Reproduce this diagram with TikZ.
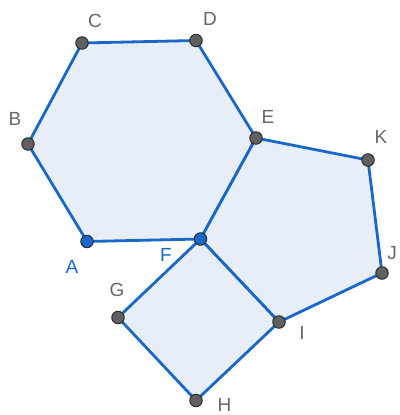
\documentclass[tikz,border=0pt]{standalone}
\usepackage{fontspec}
\setmainfont{Liberation Sans}
\definecolor{edgeblue}{HTML}{1967C8}
\definecolor{fillblue}{HTML}{E7EEF8}
\definecolor{ptgray}{HTML}{606060}
\definecolor{lblgray}{HTML}{666666}
\tikzset{
  edge/.style={draw=edgeblue, line width=2.8pt, line join=round, fill=fillblue},
  pt/.style={circle, draw=black!85, line width=0.9pt, fill=ptgray, minimum size=12.5pt, inner sep=0pt},
  bpt/.style={pt, fill=edgeblue},
  lbl/.style={text=lblgray, font=\fontsize{19pt}{19pt}\selectfont, inner sep=0pt},
  blbl/.style={lbl, text=edgeblue}
}
\begin{document}
\begin{tikzpicture}[x=1pt,y=-1pt]
\useasboundingbox (0,0) rectangle (399,415);
\coordinate (a) at (87,241.5);
\coordinate (b) at (28,144);
\coordinate (c) at (82,43);
\coordinate (d) at (196,40.5);
\coordinate (e) at (256,138);
\coordinate (f) at (200.5,239);
\coordinate (g) at (118,317.5);
\coordinate (h) at (196,400.5);
\coordinate (i) at (279,322);
\coordinate (j) at (382,273);
\coordinate (k) at (368,160);
\path[edge] (a) -- (b) -- (c) -- (d) -- (e) -- (f) -- cycle;
\path[edge] (f) -- (e) -- (k) -- (j) -- (i) -- cycle;
\path[edge] (f) -- (g) -- (h) -- (i) -- cycle;
\node[bpt] (A) at (a) {};
\node[pt] (B) at (b) {};
\node[pt] (C) at (c) {};
\node[pt] (D) at (d) {};
\node[pt] (E) at (e) {};
\node[bpt] (F) at (f) {};
\node[pt] (G) at (g) {};
\node[pt] (H) at (h) {};
\node[pt] (I) at (i) {};
\node[pt] (J) at (j) {};
\node[pt] (K) at (k) {};
\node[blbl] (lA) at (72,267) {A};
\node[lbl] (lB) at (15,119) {B};
\node[lbl] (lC) at (95,21) {C};
\node[lbl] (lD) at (210,19) {D};
\node[lbl] (lE) at (268,117) {E};
\node[blbl] (lF) at (166,255) {F};
\node[lbl] (lG) at (117,290) {G};
\node[lbl] (lH) at (224.5,405) {H};
\node[lbl] (lI) at (302,333) {I};
\node[lbl] (lJ) at (392,253) {J};
\node[lbl] (lK) at (381,137) {K};
\end{tikzpicture}
\end{document}
